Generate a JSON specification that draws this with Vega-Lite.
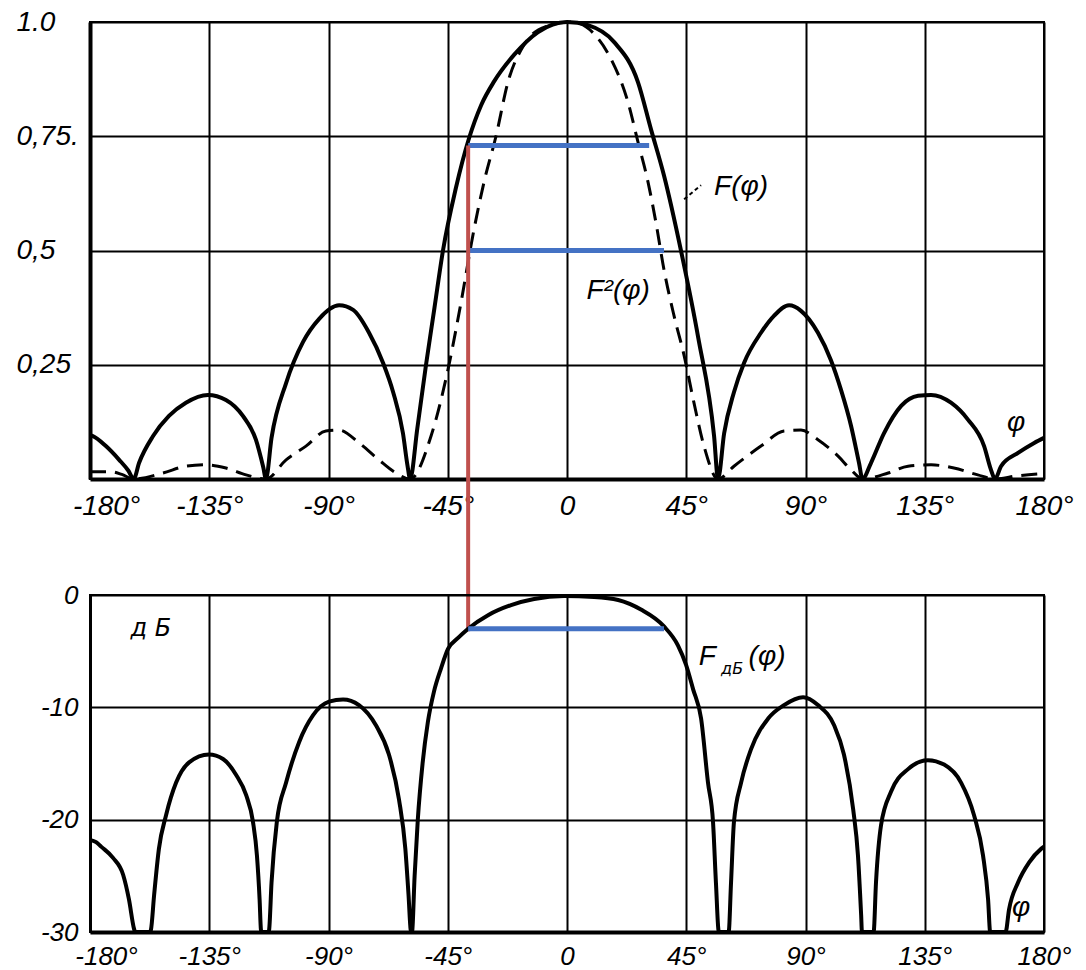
{
  "$schema": "https://vega.github.io/schema/vega-lite/v6.json",
  "background": "white",
  "padding": {"left": 15, "top": 7, "right": 5, "bottom": 5},
  "bounds": "flush",
  "spacing": 116,
  "datasets": {
    "F": [
      {"phi": -180, "v": 0.096}, {"phi": -178.9, "v": 0.094}, {"phi": -174, "v": 0.072}, {"phi": -169, "v": 0.042},
      {"phi": -165.5, "v": 0.018}, {"phi": -163.5, "v": 0.0}, {"phi": -161.5, "v": 0.035}, {"phi": -156.2, "v": 0.094},
      {"phi": -150.2, "v": 0.138}, {"phi": -143.8, "v": 0.167}, {"phi": -135.5, "v": 0.184}, {"phi": -128.7, "v": 0.173},
      {"phi": -122.3, "v": 0.138}, {"phi": -117.4, "v": 0.086}, {"phi": -114.6, "v": 0.025}, {"phi": -113.6, "v": 0.0},
      {"phi": -111.5, "v": 0.09}, {"phi": -106, "v": 0.21}, {"phi": -99.6, "v": 0.3}, {"phi": -93.6, "v": 0.35},
      {"phi": -86, "v": 0.38}, {"phi": -80.7, "v": 0.37}, {"phi": -74.7, "v": 0.32}, {"phi": -69.4, "v": 0.254},
      {"phi": -65.6, "v": 0.19}, {"phi": -61.9, "v": 0.1}, {"phi": -60.2, "v": 0.03}, {"phi": -59.2, "v": 0.0},
      {"phi": -56.5, "v": 0.11}, {"phi": -53.2, "v": 0.25}, {"phi": -50, "v": 0.375}, {"phi": -46.8, "v": 0.5},
      {"phi": -42, "v": 0.635}, {"phi": -37, "v": 0.745}, {"phi": -32.4, "v": 0.818}, {"phi": -27.5, "v": 0.87},
      {"phi": -20, "v": 0.928}, {"phi": -10.9, "v": 0.978}, {"phi": 0, "v": 1.0}, {"phi": 7.9, "v": 0.993},
      {"phi": 17.8, "v": 0.956}, {"phi": 26.8, "v": 0.868}, {"phi": 31.7, "v": 0.765}, {"phi": 36.6, "v": 0.664},
      {"phi": 43, "v": 0.5}, {"phi": 49.5, "v": 0.31}, {"phi": 55.5, "v": 0.094}, {"phi": 57, "v": 0.0},
      {"phi": 59.3, "v": 0.1}, {"phi": 63, "v": 0.19}, {"phi": 66.8, "v": 0.254}, {"phi": 73.2, "v": 0.32},
      {"phi": 78.1, "v": 0.357}, {"phi": 83.8, "v": 0.38}, {"phi": 88.3, "v": 0.368}, {"phi": 94.7, "v": 0.32},
      {"phi": 99.6, "v": 0.26}, {"phi": 103.4, "v": 0.195}, {"phi": 107.2, "v": 0.116}, {"phi": 110.2, "v": 0.035},
      {"phi": 111.5, "v": 0.0}, {"phi": 114.7, "v": 0.035}, {"phi": 119.6, "v": 0.1}, {"phi": 126.1, "v": 0.16},
      {"phi": 132.5, "v": 0.182}, {"phi": 137.4, "v": 0.184}, {"phi": 144.9, "v": 0.167}, {"phi": 151.3, "v": 0.13},
      {"phi": 157.4, "v": 0.072}, {"phi": 160, "v": 0.02}, {"phi": 161.5, "v": 0.0}, {"phi": 163.8, "v": 0.028},
      {"phi": 170.2, "v": 0.057}, {"phi": 176.3, "v": 0.079}, {"phi": 180, "v": 0.09}
    ],
    "F2": [
      {"phi": -180, "v": 0.016}, {"phi": -172, "v": 0.016}, {"phi": -168, "v": 0.01}, {"phi": -163.5, "v": 0.0},
      {"phi": -152.5, "v": 0.013}, {"phi": -143.8, "v": 0.028}, {"phi": -136.2, "v": 0.031}, {"phi": -128.7, "v": 0.024},
      {"phi": -121.1, "v": 0.009}, {"phi": -113.6, "v": 0.0}, {"phi": -106, "v": 0.042}, {"phi": -98.5, "v": 0.072},
      {"phi": -91, "v": 0.105}, {"phi": -86, "v": 0.107}, {"phi": -78.5, "v": 0.079}, {"phi": -71, "v": 0.042},
      {"phi": -64.5, "v": 0.013}, {"phi": -59.2, "v": 0.0}, {"phi": -51.3, "v": 0.094}, {"phi": -44.9, "v": 0.24},
      {"phi": -40, "v": 0.386}, {"phi": -35.1, "v": 0.546}, {"phi": -31.3, "v": 0.65}, {"phi": -26.8, "v": 0.75},
      {"phi": -22.3, "v": 0.868}, {"phi": -16.2, "v": 0.95}, {"phi": -8, "v": 0.99}, {"phi": 2, "v": 1.0},
      {"phi": 10.2, "v": 0.974}, {"phi": 16.6, "v": 0.919}, {"phi": 23, "v": 0.825}, {"phi": 26.8, "v": 0.737},
      {"phi": 30.6, "v": 0.649}, {"phi": 33.6, "v": 0.56}, {"phi": 36.6, "v": 0.458}, {"phi": 40.4, "v": 0.357},
      {"phi": 44.2, "v": 0.27}, {"phi": 47.9, "v": 0.167}, {"phi": 51.7, "v": 0.072}, {"phi": 57, "v": 0.0},
      {"phi": 63, "v": 0.028}, {"phi": 73.2, "v": 0.072}, {"phi": 81.9, "v": 0.105}, {"phi": 88.3, "v": 0.107},
      {"phi": 94.7, "v": 0.086}, {"phi": 102.3, "v": 0.05}, {"phi": 107.2, "v": 0.02}, {"phi": 111.5, "v": 0.0},
      {"phi": 121.2, "v": 0.013}, {"phi": 128.7, "v": 0.028}, {"phi": 137.4, "v": 0.031}, {"phi": 146, "v": 0.024},
      {"phi": 155, "v": 0.009}, {"phi": 161.5, "v": 0.0}, {"phi": 170, "v": 0.007}, {"phi": 180, "v": 0.012}
    ],
    "dB": [
      {"phi": -180, "v": -21.8}, {"phi": -177.7, "v": -22.0}, {"phi": -175.8, "v": -22.4}, {"phi": -171.3, "v": -23.4},
      {"phi": -167.5, "v": -24.9}, {"phi": -165.3, "v": -27.1}, {"phi": -163.4, "v": -29.7}, {"phi": -163, "v": -30},
      {"phi": -157.3, "v": -30}, {"phi": -157, "v": -29.8}, {"phi": -155.8, "v": -26.7}, {"phi": -154, "v": -22.6},
      {"phi": -151.3, "v": -19.6}, {"phi": -147.5, "v": -16.7}, {"phi": -142.6, "v": -14.9}, {"phi": -135.1, "v": -14.2},
      {"phi": -129.8, "v": -14.6}, {"phi": -124.9, "v": -16.0}, {"phi": -121.1, "v": -17.8}, {"phi": -118.5, "v": -20.2},
      {"phi": -117.0, "v": -23.2}, {"phi": -116.0, "v": -27.1}, {"phi": -115.5, "v": -29.8}, {"phi": -115.3, "v": -30},
      {"phi": -112.6, "v": -30}, {"phi": -112.4, "v": -29.8}, {"phi": -111.5, "v": -25.6}, {"phi": -109.5, "v": -20.2},
      {"phi": -106, "v": -16.7}, {"phi": -101.1, "v": -13.1}, {"phi": -95.8, "v": -10.7}, {"phi": -89.8, "v": -9.5},
      {"phi": -84.5, "v": -9.3}, {"phi": -78.5, "v": -9.8}, {"phi": -72.1, "v": -11.6}, {"phi": -67.2, "v": -14.2},
      {"phi": -63.4, "v": -18.2}, {"phi": -61.0, "v": -22.6}, {"phi": -59.8, "v": -26.7}, {"phi": -59.0, "v": -29.8},
      {"phi": -58.8, "v": -30}, {"phi": -58.5, "v": -30}, {"phi": -57.5, "v": -25}, {"phi": -56.3, "v": -20},
      {"phi": -54.5, "v": -15}, {"phi": -52.5, "v": -11.3}, {"phi": -50.2, "v": -8.6}, {"phi": -47.5, "v": -6.5},
      {"phi": -44.9, "v": -4.8}, {"phi": -41, "v": -3.8}, {"phi": -37.3, "v": -3.0}, {"phi": -29.8, "v": -1.8},
      {"phi": -21.1, "v": -0.9}, {"phi": -12.4, "v": -0.36}, {"phi": -1.1, "v": -0.1}, {"phi": 10.2, "v": -0.18},
      {"phi": 19.3, "v": -0.45}, {"phi": 27.9, "v": -1.3}, {"phi": 36.6, "v": -2.8}, {"phi": 41.9, "v": -4.5},
      {"phi": 44.9, "v": -6.2}, {"phi": 47.6, "v": -8.4}, {"phi": 50.6, "v": -11.0}, {"phi": 53.2, "v": -16.7},
      {"phi": 55.1, "v": -20.2}, {"phi": 56.2, "v": -25.6}, {"phi": 57.3, "v": -30}, {"phi": 61, "v": -30},
      {"phi": 61.9, "v": -25.6}, {"phi": 63, "v": -20.2}, {"phi": 65.7, "v": -16.7}, {"phi": 69.5, "v": -13.7},
      {"phi": 75.9, "v": -11.0}, {"phi": 81.9, "v": -9.8}, {"phi": 89.1, "v": -9.1}, {"phi": 94.7, "v": -9.8},
      {"phi": 100.8, "v": -11.6}, {"phi": 104.5, "v": -14.2}, {"phi": 108, "v": -19.1}, {"phi": 109.8, "v": -23.2},
      {"phi": 111, "v": -28.5}, {"phi": 111.3, "v": -30}, {"phi": 115.7, "v": -30}, {"phi": 116.6, "v": -25.6},
      {"phi": 118.5, "v": -20.5}, {"phi": 122.3, "v": -17.5}, {"phi": 128.7, "v": -15.5}, {"phi": 136.2, "v": -14.7},
      {"phi": 142.3, "v": -15.1}, {"phi": 148.7, "v": -16.7}, {"phi": 153.6, "v": -19.6}, {"phi": 157, "v": -23.2},
      {"phi": 158.9, "v": -27.1}, {"phi": 159.7, "v": -30}, {"phi": 165.5, "v": -30}, {"phi": 166.8, "v": -28},
      {"phi": 170.2, "v": -25.6}, {"phi": 174.4, "v": -23.8}, {"phi": 178.9, "v": -22.6}, {"phi": 180, "v": -22.4}
    ],
    "blueTop": [{"a": -37.3, "b": 31, "v": 0.73}, {"a": -37.3, "b": 36.6, "v": 0.5}],
    "blueBottom": [{"a": -37.3, "b": 36.6, "v": -3.0}],
    "red": [{"a": -37.3, "v": 0.73, "w": -0.333}],
    "leader": [{"a": 44.2, "b": 50.6, "v": 0.612, "w": 0.643}],
    "textTop": [
      {"phi": 65.7, "v": 0.638, "t": "F(φ)"},
      {"phi": 19.3, "v": 0.412, "t": "F²(φ)"},
      {"phi": 169.5, "v": 0.123, "t": "φ"}
    ],
    "textBottom": [
      {"phi": 52.9, "v": -5.5, "t": "F"},
      {"phi": 75.5, "v": -5.5, "t": "(φ)"},
      {"phi": 171.4, "v": -27.9, "t": "φ"}
    ],
    "cyrBottom": [{"phi": -157.0, "v": -3.0, "t": "д Б"}],
    "subBottom": [{"phi": 62.3, "v": -6.6, "t": "дБ"}]
  },
  "config": {
    "view": {"stroke": "black", "strokeWidth": 2},
    "axis": {
      "grid": true, "gridColor": "black", "gridWidth": 2, "gridOpacity": 1,
      "ticks": false, "domain": true, "domainColor": "black",
      "labelFont": "Liberation Sans", "labelFontStyle": "italic", "labelFontSize": 28,
      "labelColor": "black", "title": null
    },
    "text": {"font": "Liberation Sans", "fontStyle": "italic", "fontSize": 28, "color": "black"}
  },
  "vconcat": [
    {
      "width": 954,
      "height": 457,
      "layer": [
        {
          "data": {"name": "F"},
          "mark": {"type": "line", "interpolate": "monotone", "color": "black", "strokeWidth": 4},
          "encoding": {
            "x": {"field": "phi", "type": "quantitative", "scale": {"domain": [-180, 180], "nice": false},
              "axis": {"values": [-180, -135, -90, -45, 0, 45, 90, 135, 180],
                "labelExpr": "datum.value == 0 ? '0' : toString(datum.value) + '°'",
                "labelOffset": {"condition": {"test": "datum.value == -180", "value": 16}, "value": 0},
                "labelFlush": false, "labelPadding": 13, "domainWidth": 4}},
            "y": {"field": "v", "type": "quantitative", "scale": {"domain": [0, 1], "nice": false, "zero": false},
              "axis": {"values": [0.25, 0.5, 0.75, 1],
                "labelExpr": "datum.value == 1 ? '1.0' : datum.value == 0.75 ? '0,75.' : datum.value == 0.5 ? '0,5' : '0,25'",
                "labelAlign": "left", "labelPadding": 74, "domainWidth": 4}}
          }
        },
        {
          "data": {"name": "F2"},
          "mark": {"type": "line", "interpolate": "monotone", "color": "black", "strokeWidth": 3, "strokeDash": [16, 9]},
          "encoding": {
            "x": {"field": "phi", "type": "quantitative"},
            "y": {"field": "v", "type": "quantitative"}
          }
        },
        {
          "data": {"name": "leader"},
          "mark": {"type": "rule", "color": "black", "strokeWidth": 2, "strokeDash": [4, 3]},
          "encoding": {
            "x": {"field": "a", "type": "quantitative"}, "x2": {"field": "b"},
            "y": {"field": "v", "type": "quantitative"}, "y2": {"field": "w"}
          }
        },
        {
          "data": {"name": "blueTop"},
          "mark": {"type": "rule", "color": "#4472C4", "strokeWidth": 5},
          "encoding": {
            "x": {"field": "a", "type": "quantitative"}, "x2": {"field": "b"},
            "y": {"field": "v", "type": "quantitative"}
          }
        },
        {
          "data": {"name": "red"},
          "mark": {"type": "rule", "color": "#C0504D", "strokeWidth": 4},
          "encoding": {
            "x": {"field": "a", "type": "quantitative"},
            "y": {"field": "v", "type": "quantitative"}, "y2": {"field": "w"}
          }
        },
        {
          "data": {"name": "textTop"},
          "mark": {"type": "text", "align": "center", "baseline": "middle"},
          "encoding": {
            "x": {"field": "phi", "type": "quantitative"},
            "y": {"field": "v", "type": "quantitative"},
            "text": {"field": "t"}
          }
        }
      ]
    },
    {
      "width": 954,
      "height": 337,
      "layer": [
        {
          "data": {"name": "dB"},
          "mark": {"type": "line", "interpolate": "monotone", "color": "black", "strokeWidth": 4},
          "encoding": {
            "x": {"field": "phi", "type": "quantitative", "scale": {"domain": [-180, 180], "nice": false},
              "axis": {"values": [-180, -135, -90, -45, 0, 45, 90, 135, 180],
                "labelExpr": "datum.value == 0 ? '0' : toString(datum.value) + '°'",
                "labelOffset": {"condition": {"test": "datum.value == -180", "value": 16}, "value": 0},
                "labelFontSize": 26,
                "labelFlush": false, "labelPadding": 11, "domainWidth": 4}},
            "y": {"field": "v", "type": "quantitative", "scale": {"domain": [-30, 0], "nice": false, "zero": false},
              "axis": {"values": [0, -10, -20, -30],
                "labelExpr": "toString(datum.value)",
                "labelFontSize": 26,
                "labelPadding": 12, "domainWidth": 3}}
          }
        },
        {
          "data": {"name": "blueBottom"},
          "mark": {"type": "rule", "color": "#4472C4", "strokeWidth": 5},
          "encoding": {
            "x": {"field": "a", "type": "quantitative"}, "x2": {"field": "b"},
            "y": {"field": "v", "type": "quantitative"}
          }
        },
        {
          "data": {"name": "textBottom"},
          "mark": {"type": "text", "align": "center", "baseline": "middle"},
          "encoding": {
            "x": {"field": "phi", "type": "quantitative"},
            "y": {"field": "v", "type": "quantitative"},
            "text": {"field": "t"}
          }
        },
        {
          "data": {"name": "cyrBottom"},
          "mark": {"type": "text", "align": "center", "baseline": "middle", "font": "DejaVu Sans", "fontSize": 24},
          "encoding": {
            "x": {"field": "phi", "type": "quantitative"},
            "y": {"field": "v", "type": "quantitative"},
            "text": {"field": "t"}
          }
        },
        {
          "data": {"name": "subBottom"},
          "mark": {"type": "text", "align": "center", "baseline": "middle", "font": "DejaVu Sans", "fontSize": 16},
          "encoding": {
            "x": {"field": "phi", "type": "quantitative"},
            "y": {"field": "v", "type": "quantitative"},
            "text": {"field": "t"}
          }
        }
      ]
    }
  ]
}
